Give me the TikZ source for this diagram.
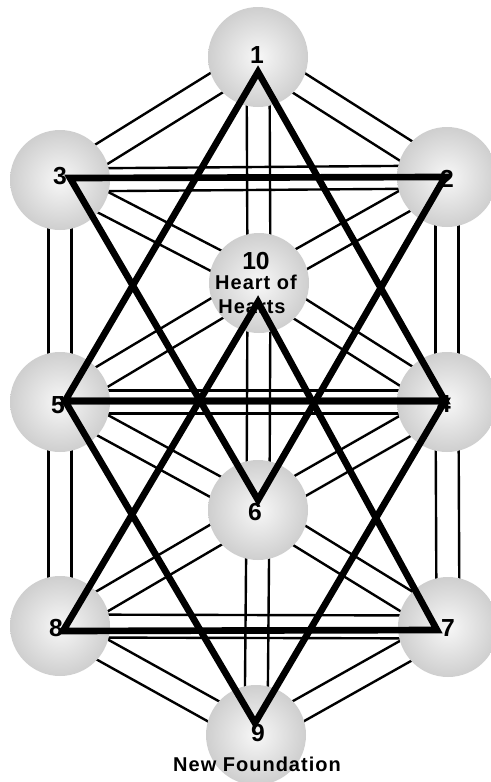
\documentclass[tikz,border=0pt]{standalone}
\usepackage{fontspec}
\setmainfont{Liberation Sans}
\newfontfamily\spacedfont[LetterSpace=5]{Liberation Sans}
\usetikzlibrary{calc}
\tikzset{
  pathline/.style={line width=1.8pt, black},
  ball/.style={circle, minimum size=75pt, inner sep=0pt, draw=none,
    shading=radial, inner color=white!97!black, outer color=black!19},
  num/.style={inner sep=0pt, font=\bfseries\fontsize{18.5}{18.5}\selectfont},
  lab/.style={inner sep=0pt, font=\spacedfont\bfseries\fontsize{15}{15}\selectfont},
  tri/.style={line width=5pt, black, line join=miter}
}
\newcommand\offd{8.6pt}
\begin{document}
\begin{tikzpicture}[x=0.75pt,y=-0.75pt]
\useasboundingbox (0,0) rectangle (491,782);
% circle centres
\coordinate (c1) at (258,57);
\coordinate (c2) at (447,177);
\coordinate (c3) at (60,180);
\coordinate (c10) at (259,283);
\coordinate (c4) at (447,402);
\coordinate (c5) at (60,402);
\coordinate (c6) at (258,510);
\coordinate (c7) at (448,627);
\coordinate (c8) at (60,626);
\coordinate (c9) at (256,735);
% triangle vertices
\coordinate (t1) at (258,72);
\coordinate (t2) at (445,177);
\coordinate (t3) at (70,178);
\coordinate (t10) at (258,302);
\coordinate (t4) at (445,401);
\coordinate (t5) at (65,401);
\coordinate (t6) at (258,500);
\coordinate (t7) at (437,630);
\coordinate (t8) at (63,631);
\coordinate (t9) at (255,723);
% double paths
\foreach \a/\b in {c1/c2,c1/c3,c1/c10,c2/c3,c2/c4,c3/c5,c2/c10,c3/c10,c10/c4,c10/c5,c10/c6,c4/c5,c4/c6,c5/c6,c4/c7,c5/c8,c6/c7,c6/c8,c7/c8,c6/c9,c7/c9,c8/c9}{
  \draw[pathline] let \p1=($(\b)-(\a)$), \n1={atan2(\y1,\x1)} in
    ($(\a)+(\n1+90:\offd)$) -- ($(\b)+(\n1+90:\offd)$)
    ($(\a)+(\n1-90:\offd)$) -- ($(\b)+(\n1-90:\offd)$);
}
% spheres
\foreach \i in {1,2,3,4,5,6,7,8,9,10}{
  \node[ball] (n\i) at (c\i) {};
}
% labels
\node[num] (l1) at (257,55) {1};
\node[num] (l2) at (447,179) {2};
\node[num] (l3) at (60,176) {3};
\node[num] (l10) at (256,261) {10};
\node[lab] (h1) at (256,282) {Heart of};
\node[lab] (h2) at (252,307) {Hearts};
\node[num] (l4) at (444,404) {4};
\node[num] (l5) at (58,405) {5};
\node[num] (l6) at (255,512) {6};
\node[num] (l7) at (448,628) {7};
\node[num] (l8) at (56,628) {8};
\node[num] (l9) at (258,733) {9};
\node[lab] (nf) at (257,764) {New Foundation};
% triangles
\draw[tri] (t1) -- (t5) -- (t4) -- cycle;
\draw[tri] (t3) -- (t2) -- (t6) -- cycle;
\draw[tri] (t10) -- (t8) -- (t7) -- cycle;
\draw[tri] (t5) -- (t4) -- (t9) -- cycle;
\end{tikzpicture}
\end{document}
